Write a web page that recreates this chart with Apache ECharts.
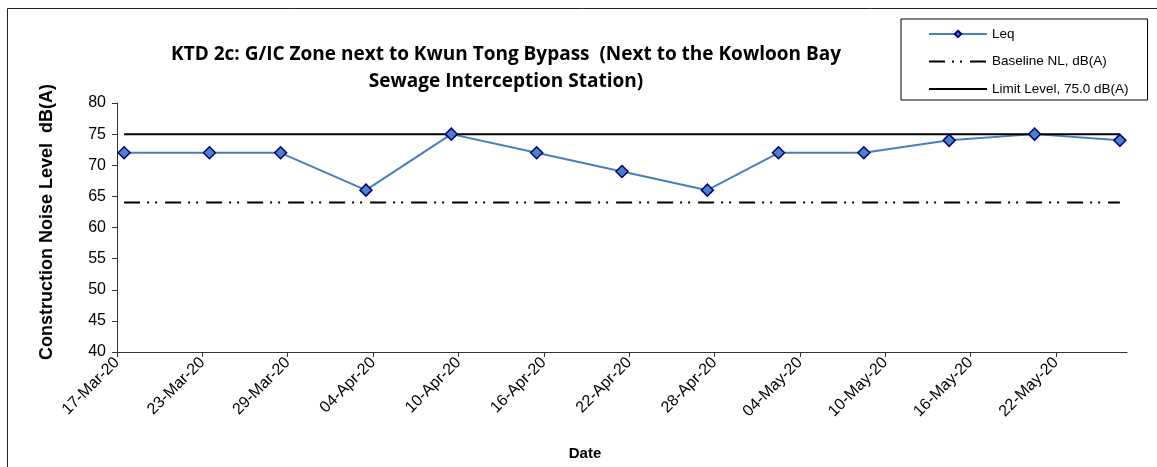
<!DOCTYPE html>
<html>
<head>
<meta charset="utf-8">
<title>KTD 2c noise levels</title>
<script src="https://cdn.jsdelivr.net/npm/echarts@6/dist/echarts.min.js"></script>
<style>
  html, body { margin: 0; padding: 0; background: #fff; }
  #chart { width: 1157px; height: 467px; }
</style>
</head>
<body>
<div id="chart"></div>
<script>
// measurement dates and levels, dB(A)
const dates = [
  '2020-03-17', '2020-03-23', '2020-03-28', '2020-04-03', '2020-04-09',
  '2020-04-15', '2020-04-21', '2020-04-27', '2020-05-02', '2020-05-08',
  '2020-05-14', '2020-05-20', '2020-05-26'
]
const leq = [72, 72, 72, 66, 75, 72, 69, 66, 72, 72, 74, 75, 74]
const baseline = [64, 64, 64, 64, 64, 64, 64, 64, 64, 64, 64, 64, 64]
const limit = [75, 75, 75, 75, 75, 75, 75, 75, 75, 75, 75, 75, 75]

// date axis runs 17-Mar-20 .. 27-May-20, ticks every 6 days
const axisStart = '2020-03-17'
const axisEnd = '2020-05-27'
const tickStepDays = 6
const yTicks = [40, 45, 50, 55, 60, 65, 70, 75, 80]

const DAY = 86400000
const MONTHS = ['Jan', 'Feb', 'Mar', 'Apr', 'May', 'Jun', 'Jul', 'Aug', 'Sep', 'Oct', 'Nov', 'Dec']
const startMs = Date.parse(axisStart + 'T00:00:00Z')

function dayIndex(d) {
  return (Date.parse(d + 'T00:00:00Z') - startMs) / DAY
}

function formatDay(idx) {
  const d = new Date(startMs + idx * DAY)
  const dd = String(d.getUTCDate()).padStart(2, '0')
  const yy = String(d.getUTCFullYear()).slice(2)
  return `${dd}-${MONTHS[d.getUTCMonth()]}-${yy}`
}

const maxDay = dayIndex(axisEnd)
const tickDays = []
for (let i = 0; i < maxDay; i += tickStepDays) tickDays.push(i)

// points sit in the middle of their day, like an Excel date axis
function pairs(values) {
  return dates.map((d, i) => [dayIndex(d) + 0.5, values[i]])
}

const font = '"Liberation Sans", Arial, sans-serif'

const chart = echarts.init(document.getElementById('chart'))

chart.setOption({
  animation: false,
  textStyle: { fontFamily: font, color: '#000' },
  title: {
    text: 'KTD 2c: G/IC Zone next to Kwun Tong Bypass  (Next to the Kowloon Bay\nSewage Interception Station)',
    left: 501,
    top: 36,
    textAlign: 'center',
    textStyle: {
      fontFamily: '"Open Sans", "Noto Sans", sans-serif',
      fontWeight: 'bold',
      fontSize: 19,
      lineHeight: 27,
      color: '#000'
    }
  },
  graphic: [
    {
      type: 'rect',
      left: 5,
      top: 6,
      shape: { width: 1170, height: 480 },
      style: { fill: 'none', stroke: '#222', lineWidth: 1 },
      silent: true
    }
  ],
  legend: {
    orient: 'vertical',
    left: 901,
    top: 19,
    padding: [8, 19, 4, 27],
    itemWidth: 58,
    itemHeight: 8,
    itemGap: 13.5,
    borderColor: '#000',
    borderWidth: 1,
    textStyle: { fontFamily: font, fontSize: 13.5, color: '#000' },
    data: [
      'Leq',
      { name: 'Baseline NL, dB(A)', itemStyle: { opacity: 0 } },
      { name: 'Limit Level, 75.0 dB(A)', itemStyle: { opacity: 0 } }
    ]
  },
  grid: {
    left: 117,
    right: 30,
    top: 103,
    bottom: 115
  },
  xAxis: {
    type: 'value',
    min: 0,
    max: maxDay,
    interval: tickStepDays,
    name: 'Date',
    nameLocation: 'middle',
    nameGap: 94,
    nameTextStyle: {
      fontFamily: font,
      fontWeight: 'bold',
      fontSize: 15,
      color: '#000',
      padding: [0, 74, 0, 0]
    },
    axisLine: { lineStyle: { color: '#333', width: 1 } },
    axisTick: { length: 5, customValues: tickDays, lineStyle: { color: '#333' } },
    axisLabel: {
      rotate: 45,
      margin: 8,
      fontSize: 16,
      color: '#000',
      customValues: tickDays,
      formatter(value) {
        return formatDay(value)
      }
    },
    splitLine: { show: false }
  },
  yAxis: {
    type: 'value',
    min: yTicks[0],
    max: yTicks[yTicks.length - 1],
    interval: 5,
    name: 'Construction Noise Level  dB(A)',
    nameLocation: 'middle',
    nameGap: 61,
    nameTextStyle: {
      fontFamily: font,
      fontWeight: 'bold',
      fontSize: 18,
      color: '#000',
      padding: [0, 0, 0, 11]
    },
    axisLine: { show: true, lineStyle: { color: '#333', width: 1 } },
    axisTick: { show: true, length: 5, lineStyle: { color: '#333' } },
    axisLabel: { fontSize: 16, color: '#000', margin: 11 },
    splitLine: { show: false }
  },
  series: [
    {
      name: 'Leq',
      type: 'line',
      data: pairs(leq),
      symbol: 'diamond',
      symbolSize: 12,
      z: 3,
      lineStyle: { color: '#4a7ebb', width: 2 },
      itemStyle: { color: '#4f81bd', borderColor: '#000080', borderWidth: 1.5 }
    },
    {
      name: 'Baseline NL, dB(A)',
      type: 'line',
      data: pairs(baseline),
      symbol: 'none',
      lineStyle: { color: '#000', width: 2, type: [16, 7, 2, 6, 2, 8] },
      itemStyle: { color: '#000' }
    },
    {
      name: 'Limit Level, 75.0 dB(A)',
      type: 'line',
      data: pairs(limit),
      symbol: 'none',
      lineStyle: { color: '#000', width: 2 },
      itemStyle: { color: '#000' }
    }
  ]
})
</script>
</body>
</html>
